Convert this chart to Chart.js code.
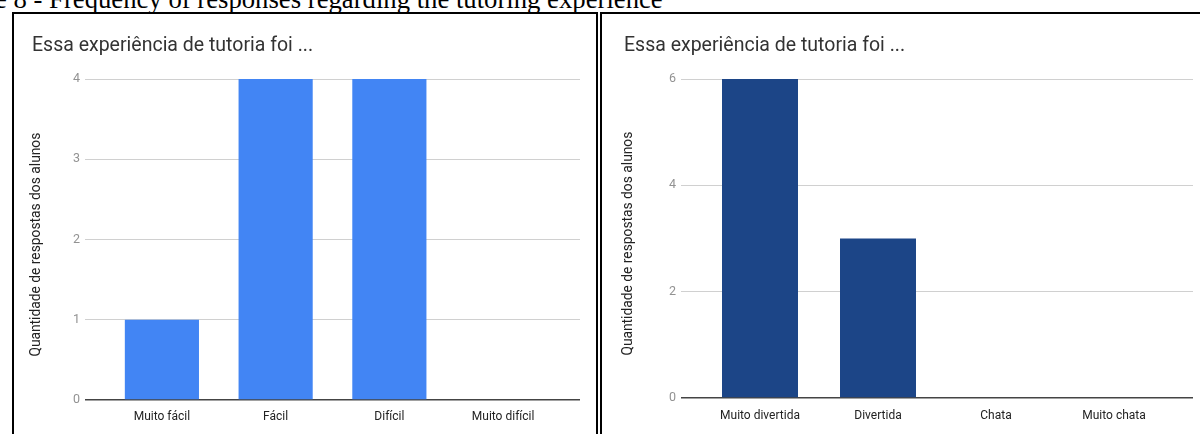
<!DOCTYPE html>
<html><head><meta charset="utf-8">
<script src="https://cdn.jsdelivr.net/npm/chart.js@4.4.1/dist/chart.umd.min.js"></script>
<style>
html,body{margin:0;padding:0;background:#fff;width:1200px;height:434px;overflow:hidden;position:relative}
#caption{position:absolute;left:-5px;top:-13.9px;font-family:"Liberation Serif","Times New Roman",serif;font-size:26.7px;line-height:1;white-space:nowrap;color:#000;z-index:2}
.panel{position:absolute;top:12px;border:2px solid #000;box-sizing:border-box;height:460px;background:#fff}
#p1{left:12px;width:586px}
#p2{left:600px;width:640px}
canvas{position:absolute;left:0;top:0}
</style></head>
<body>
<div id="caption">e 8 - Frequency of responses regarding the tutoring experience</div>
<div class="panel" id="p1"><canvas id="c1" width="582" height="420"></canvas></div>
<div class="panel" id="p2"><canvas id="c2" width="598" height="420"></canvas></div>
<script>
const chartTitle = 'Essa experiência de tutoria foi ...';
const yAxisTitle = 'Quantidade de respostas dos alunos';

const catsA = ['Muito fácil', 'Fácil', 'Difícil', 'Muito difícil'];
const valsA = [1, 4, 4, 0];
const yTicksA = [0, 1, 2, 3, 4];

const catsB = ['Muito divertida', 'Divertida', 'Chata', 'Muito chata'];
const valsB = [6, 3, 0, 0];
const yTicksB = [0, 2, 4, 6];

function makeChart(id, cats, vals, yTicks, color, g) {
  new Chart(document.getElementById(id), {
    type: 'bar',
    data: {
      datasets: [{
        data: cats.map((c, i) => ({ x: i, y: vals[i] })),
        backgroundColor: color,
        borderWidth: 0,
        categoryPercentage: 1,
        barPercentage: g.bar
      }]
    },
    options: {
      responsive: false,
      animation: false,
      devicePixelRatio: 1,
      layout: { padding: { left: g.padL, right: g.padR, top: 0, bottom: 0 } },
      plugins: {
        legend: { display: false },
        tooltip: { enabled: false },
        title: {
          display: true, text: chartTitle, align: 'start', color: '#333',
          font: { family: 'Roboto', size: 19.5, weight: 'normal', lineHeight: 1.2 },
          padding: { top: 20.3, bottom: 21.3 }
        }
      },
      scales: {
        x: {
          type: 'linear',
          offset: false,
          min: -0.5 - g.side,
          max: cats.length - 0.5 + g.side,
          grid: { display: false, offset: false },
          border: { display: false },
          afterBuildTicks: s => { s.ticks = cats.map((c, i) => ({ value: i })); },
          afterFit: s => { s.height = g.xH; },
          ticks: {
            callback: v => cats[v],
            color: '#222',
            font: { family: 'Roboto', size: 12 },
            padding: g.xPad, maxRotation: 0, autoSkip: false
          }
        },
        y: {
          min: 0,
          max: yTicks[yTicks.length - 1],
          afterBuildTicks: s => { s.ticks = yTicks.map(v => ({ value: v })); },
          afterFit: s => { s.width = g.yW; },
          grid: {
            drawTicks: false,
            color: c => (c.tick && c.tick.value === 0) ? '#444' : '#d0d0d0',
            lineWidth: c => (c.tick && c.tick.value === 0) ? 1.5 : 1
          },
          border: { display: false },
          ticks: { color: '#929292', font: { family: 'Roboto', size: 12.5 }, padding: 5 },
          title: {
            display: true, text: yAxisTitle + '\u00a0\u00a0\u00a0', color: '#222',
            font: { family: 'Roboto', size: 13.8, lineHeight: 0.5 },
            padding: { top: 0.9, bottom: 0 }
          }
        }
      }
    }
  });
}

makeChart('c1', catsA, valsA, yTicksA, '#4285f4',
  { padL: 18, padR: 16, yW: 53, xH: 34, xPad: 1.8, side: 20 / 113.5, bar: 0.652 });
makeChart('c2', catsB, valsB, yTicksB, '#1c4587',
  { padL: 22, padR: 7, yW: 57, xH: 36, xPad: 2.8, side: 20 / 118, bar: 0.644 });
</script>
</body></html>
